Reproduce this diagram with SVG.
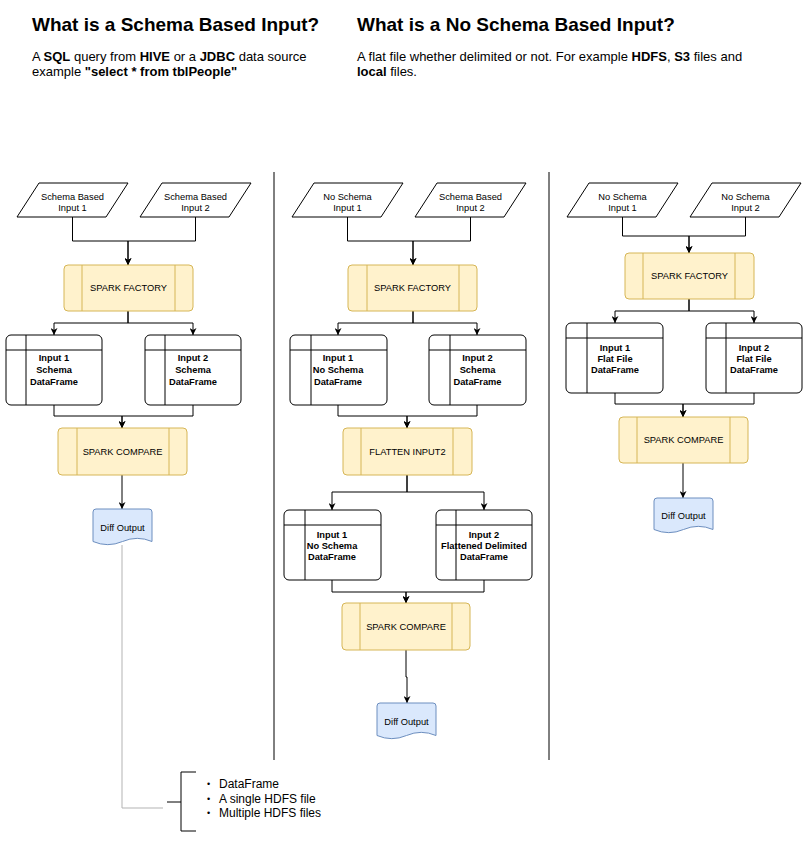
<svg xmlns="http://www.w3.org/2000/svg" width="811" height="842" viewBox="0 0 811 842">
<style>
text{font-family:"Liberation Sans",Arial,sans-serif;fill:#000}
.t{font-size:19px;font-weight:bold}
.d{font-size:13px}
.s{font-size:9.3px;text-anchor:middle}
.sb{font-size:9.3px;text-anchor:middle;font-weight:bold}
.li{font-size:12px}
.bu{font-size:9px}
.par{fill:#fff;stroke:#000;stroke-width:1;stroke-linejoin:round}
.proc{fill:#fff2cc;stroke:#d6b656;stroke-width:1}
.pl{stroke:#d6b656;stroke-width:1;fill:none}
.box{fill:#fff;stroke:#000;stroke-width:1}
.bl{stroke:#000;stroke-width:1;fill:none}
.doc{fill:#dae8fc;stroke:#6c8ebf;stroke-width:1}
.c{fill:none;stroke:#000;stroke-width:1}
.g{fill:none;stroke:#b3b3b3;stroke-width:1}
</style>
<defs>
<marker id="ar" viewBox="0 0 10 10" refX="10" refY="5" markerWidth="7" markerHeight="7" markerUnits="userSpaceOnUse" orient="auto">
<path d="M0,0 L10,5 L0,10 L3,5 Z" fill="#000"/>
</marker>
</defs>

<g id="headers">
<text class="t" x="32" y="31">What is a Schema Based Input?</text>
<text class="d" x="32" y="61">A <tspan font-weight="bold">SQL</tspan> query from <tspan font-weight="bold">HIVE</tspan> or a <tspan font-weight="bold">JDBC</tspan> data source</text>
<text class="d" x="32" y="76">example <tspan font-weight="bold">"select * from tblPeople"</tspan></text>
<text class="t" x="357" y="31">What is a No Schema Based Input?</text>
<text class="d" x="357" y="61">A flat file whether delimited or not. For example <tspan font-weight="bold">HDFS</tspan>, <tspan font-weight="bold">S3</tspan> files and</text>
<text class="d" x="357" y="76"><tspan font-weight="bold">local</tspan> files.</text>
</g>

<g id="connectors">
<path class="c" d="M274,172 V760"/>
<path class="c" d="M549,172 V760"/>
<!-- column 1 -->
<path class="c" d="M72.5,217 V241 H128 V265" marker-end="url(#ar)"/>
<path class="c" d="M195.5,217 V241 H128 V265" marker-end="url(#ar)"/>
<path class="c" d="M128,311 V323 H54 V335" marker-end="url(#ar)"/>
<path class="c" d="M128,311 V323 H193 V335" marker-end="url(#ar)"/>
<path class="c" d="M54,405 V416 H122 V428" marker-end="url(#ar)"/>
<path class="c" d="M193,405 V416 H122 V428" marker-end="url(#ar)"/>
<path class="c" d="M122,475 V509" marker-end="url(#ar)"/>
<path class="g" d="M122,545 V808 H163"/>
<!-- column 2 -->
<path class="c" d="M347.5,217 V241 H413 V265" marker-end="url(#ar)"/>
<path class="c" d="M470.5,217 V241 H413 V265" marker-end="url(#ar)"/>
<path class="c" d="M413,311 V323 H338 V335" marker-end="url(#ar)"/>
<path class="c" d="M413,311 V323 H477 V335" marker-end="url(#ar)"/>
<path class="c" d="M338,405 V416 H407 V428" marker-end="url(#ar)"/>
<path class="c" d="M477,405 V416 H407 V428" marker-end="url(#ar)"/>
<path class="c" d="M407,475 V492 H332 V510" marker-end="url(#ar)"/>
<path class="c" d="M407,475 V492 H484 V510" marker-end="url(#ar)"/>
<path class="c" d="M332,580 V592 H406 V603" marker-end="url(#ar)"/>
<path class="c" d="M484,580 V592 H406 V603" marker-end="url(#ar)"/>
<path class="c" d="M406,650 V677 H407 V703" marker-end="url(#ar)"/>
<!-- column 3 -->
<path class="c" d="M622.5,217 V236 H689 V253" marker-end="url(#ar)"/>
<path class="c" d="M745.5,217 V236 H689 V253" marker-end="url(#ar)"/>
<path class="c" d="M689,299 V311 H615 V323" marker-end="url(#ar)"/>
<path class="c" d="M689,299 V311 H754 V323" marker-end="url(#ar)"/>
<path class="c" d="M615,393 V404 H683 V417" marker-end="url(#ar)"/>
<path class="c" d="M754,393 V404 H683 V417" marker-end="url(#ar)"/>
<path class="c" d="M683,463 V498" marker-end="url(#ar)"/>
</g>

<!-- Column 1 -->
<g id="c1-in1">
<path class="par" d="M39,183 H128 L106,217 H17 Z"/>
<text class="s" x="72.5" y="199.5">Schema Based</text>
<text class="s" x="72.5" y="210.5">Input 1</text>
</g>
<g id="c1-in2">
<path class="par" d="M162,183 H251 L229,217 H140 Z"/>
<text class="s" x="195.5" y="199.5">Schema Based</text>
<text class="s" x="195.5" y="210.5">Input 2</text>
</g>
<g id="c1-factory">
<rect class="proc" x="64" y="265" width="129" height="46" rx="4"/>
<path class="pl" d="M82,265 V311 M175,265 V311"/>
<text class="s" x="128.5" y="291.3">SPARK FACTORY</text>
</g>
<g id="c1-df1">
<rect class="box" x="6" y="335" width="96" height="70" rx="5"/>
<path class="bl" d="M26,335 V405 M6,350 H102"/>
<text class="sb" x="54" y="361.3">Input 1</text>
<text class="sb" x="54" y="373.3">Schema</text>
<text class="sb" x="54" y="385.3">DataFrame</text>
</g>
<g id="c1-df2">
<rect class="box" x="145" y="335" width="96" height="70" rx="5"/>
<path class="bl" d="M165,335 V405 M145,350 H241"/>
<text class="sb" x="193" y="361.3">Input 2</text>
<text class="sb" x="193" y="373.3">Schema</text>
<text class="sb" x="193" y="385.3">DataFrame</text>
</g>
<g id="c1-compare">
<rect class="proc" x="58" y="428" width="129" height="47" rx="4"/>
<path class="pl" d="M77,428 V475 M169,428 V475"/>
<text class="s" x="122.5" y="454.5">SPARK COMPARE</text>
</g>
<g id="c1-diff">
<path class="doc" d="M93,512 Q93,509 96,509 H149 Q152,509 152,512 V541.5 Q137.25,535.2 122.5,541.5 Q107.75,547.8 93,541.5 Z"/>
<text class="s" x="122.5" y="530.5">Diff Output</text>
</g>
<g id="outputs-note">
<path class="c" d="M196,772 H181 V831 H196 M167,802 H181"/>
<text class="bu" x="207" y="787">•</text>
<text class="li" x="219" y="788">DataFrame</text>
<text class="bu" x="207" y="802">•</text>
<text class="li" x="219" y="803">A single HDFS file</text>
<text class="bu" x="207" y="816">•</text>
<text class="li" x="219" y="817">Multiple HDFS files</text>
</g>

<!-- Column 2 -->
<g id="c2-in1">
<path class="par" d="M314,183 H403 L381,217 H292 Z"/>
<text class="s" x="347.5" y="199.5">No Schema</text>
<text class="s" x="347.5" y="210.5">Input 1</text>
</g>
<g id="c2-in2">
<path class="par" d="M437,183 H526 L504,217 H415 Z"/>
<text class="s" x="470.5" y="199.5">Schema Based</text>
<text class="s" x="470.5" y="210.5">Input 2</text>
</g>
<g id="c2-factory">
<rect class="proc" x="348" y="265" width="129" height="46" rx="4"/>
<path class="pl" d="M367,265 V311 M459,265 V311"/>
<text class="s" x="412.5" y="291.3">SPARK FACTORY</text>
</g>
<g id="c2-df1">
<rect class="box" x="290" y="335" width="97" height="70" rx="5"/>
<path class="bl" d="M311,335 V405 M290,350 H387"/>
<text class="sb" x="338" y="361.3">Input 1</text>
<text class="sb" x="338" y="373.3">No Schema</text>
<text class="sb" x="338" y="385.3">DataFrame</text>
</g>
<g id="c2-df2">
<rect class="box" x="429" y="335" width="97" height="70" rx="5"/>
<path class="bl" d="M450,335 V405 M429,350 H526"/>
<text class="sb" x="477.5" y="361.3">Input 2</text>
<text class="sb" x="477.5" y="373.3">Schema</text>
<text class="sb" x="477.5" y="385.3">DataFrame</text>
</g>
<g id="c2-flatten">
<rect class="proc" x="343" y="428" width="129" height="47" rx="4"/>
<path class="pl" d="M361,428 V475 M453,428 V475"/>
<text class="s" x="407.5" y="454.5">FLATTEN INPUT2</text>
</g>
<g id="c2-df3">
<rect class="box" x="284" y="510" width="97" height="70" rx="5"/>
<path class="bl" d="M305,510 V580 M284,525 H381"/>
<text class="sb" x="332" y="538.3">Input 1</text>
<text class="sb" x="332" y="549.3">No Schema</text>
<text class="sb" x="332" y="560.3">DataFrame</text>
</g>
<g id="c2-df4">
<rect class="box" x="436" y="510" width="96" height="70" rx="5"/>
<path class="bl" d="M456,510 V580 M436,525 H532"/>
<text class="sb" x="484" y="538.3">Input 2</text>
<text class="sb" x="484" y="549.3">Flattened Delimited</text>
<text class="sb" x="484" y="560.3">DataFrame</text>
</g>
<g id="c2-compare">
<rect class="proc" x="342" y="603" width="128" height="47" rx="4"/>
<path class="pl" d="M360,603 V650 M452,603 V650"/>
<text class="s" x="406" y="630.3">SPARK COMPARE</text>
</g>
<g id="c2-diff">
<path class="doc" d="M377,706 Q377,703 380,703 H433 Q436,703 436,706 V735.5 Q421.25,729.2 406.5,735.5 Q391.75,741.8 377,735.5 Z"/>
<text class="s" x="406.5" y="724.5">Diff Output</text>
</g>

<!-- Column 3 -->
<g id="c3-in1">
<path class="par" d="M589,183 H678 L656,217 H567 Z"/>
<text class="s" x="622.5" y="199.5">No Schema</text>
<text class="s" x="622.5" y="210.5">Input 1</text>
</g>
<g id="c3-in2">
<path class="par" d="M712,183 H801 L779,217 H690 Z"/>
<text class="s" x="745.5" y="199.5">No Schema</text>
<text class="s" x="745.5" y="210.5">Input 2</text>
</g>
<g id="c3-factory">
<rect class="proc" x="625" y="253" width="129" height="46" rx="4"/>
<path class="pl" d="M643,253 V299 M735,253 V299"/>
<text class="s" x="689.5" y="279.3">SPARK FACTORY</text>
</g>
<g id="c3-df1">
<rect class="box" x="566" y="323" width="97" height="70" rx="5"/>
<path class="bl" d="M587,323 V393 M566,338 H663"/>
<text class="sb" x="615" y="351.3">Input 1</text>
<text class="sb" x="615" y="362.3">Flat File</text>
<text class="sb" x="615" y="373.3">DataFrame</text>
</g>
<g id="c3-df2">
<rect class="box" x="706" y="323" width="96" height="70" rx="5"/>
<path class="bl" d="M726,323 V393 M706,338 H802"/>
<text class="sb" x="754" y="351.3">Input 2</text>
<text class="sb" x="754" y="362.3">Flat File</text>
<text class="sb" x="754" y="373.3">DataFrame</text>
</g>
<g id="c3-compare">
<rect class="proc" x="619" y="417" width="129" height="46" rx="4"/>
<path class="pl" d="M637,417 V463 M730,417 V463"/>
<text class="s" x="683.5" y="443.3">SPARK COMPARE</text>
</g>
<g id="c3-diff">
<path class="doc" d="M654,501 Q654,498 657,498 H710 Q713,498 713,501 V529.5 Q698.25,523.2 683.5,529.5 Q668.75,535.8 654,529.5 Z"/>
<text class="s" x="683.5" y="519.3">Diff Output</text>
</g>
</svg>
